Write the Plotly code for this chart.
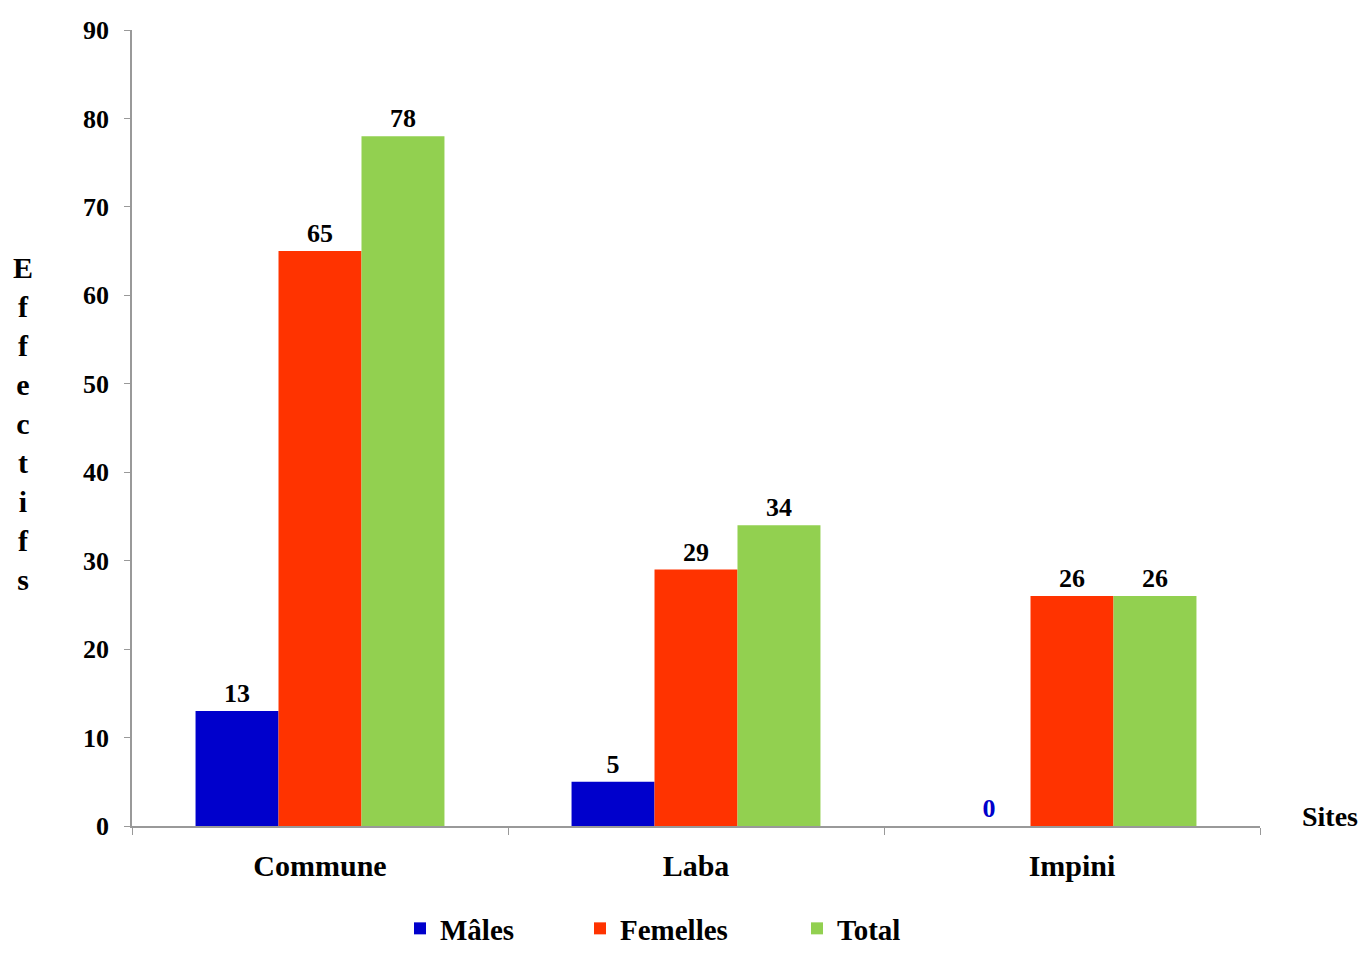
import plotly.graph_objects as go

sites = ["Commune", "Laba", "Impini"]
males = [13, 5, 0]
femelles = [65, 29, 26]
total = [78, 34, 26]
series_names = ["Mâles", "Femelles", "Total"]
colors = ["#0000CC", "#FF3300", "#92D050"]
y_ticks = [0, 10, 20, 30, 40, 50, 60, 70, 80, 90]

FONT = "Liberation Serif, Times New Roman, serif"
legend_ids = ["legend", "legend2", "legend3"]
legend_x = [400, 580, 797]

fig = go.Figure()
for name, vals, col, lid in zip(series_names, [males, femelles, total], colors, legend_ids):
    txtcol = ["#0000CC" if v == 0 else "black" for v in vals]
    fig.add_trace(go.Bar(
        x=sites, y=vals, name=name, marker=dict(color=col, line=dict(width=0)),
        text=[str(v) for v in vals], textposition="outside",
        textfont=dict(family=FONT, size=26, color=txtcol, weight="bold"),
        cliponaxis=False, legend=lid,
    ))

leg_common = dict(xref="container", yref="container", y=-0.006, yanchor="bottom",
                  xanchor="left", orientation="h", bgcolor="rgba(0,0,0,0)",
                  borderwidth=0, tracegroupgap=0,
                  font=dict(family=FONT, size=29, weight="bold", color="black"))
fig.update_layout(
    width=1368, height=954,
    margin=dict(l=132, r=108, t=30, b=128, autoexpand=False),
    plot_bgcolor="white", paper_bgcolor="white",
    barmode="group", bargap=0.338, bargroupgap=0,
    font=dict(family=FONT, color="black"),
    showlegend=True,
    legend=dict(x=legend_x[0] / 1368, **leg_common),
    legend2=dict(x=legend_x[1] / 1368, **leg_common),
    legend3=dict(x=legend_x[2] / 1368, **leg_common),
)
fig.update_xaxes(
    showline=True, linecolor="#999999", linewidth=1.5,
    tickson="boundaries", ticks="outside", ticklen=7, tickcolor="#999999",
    tickfont=dict(family=FONT, size=30, weight="bold", color="black"),
    showgrid=False, ticklabelstandoff=12,
)
fig.update_yaxes(
    range=[0, 90], tickvals=y_ticks, showline=True, linecolor="#999999", linewidth=1.5,
    ticks="outside", ticklen=6, tickcolor="#999999", showgrid=False, zeroline=False,
    tickfont=dict(family=FONT, size=26, weight="bold", color="black"),
    ticklabelstandoff=10,
)
fig.add_annotation(
    text="<br>".join(list("Effectifs")), xref="paper", yref="paper",
    x=-0.097, y=0.506, xanchor="center", yanchor="middle", showarrow=False,
    font=dict(family=FONT, size=30, weight="bold", color="black"),
)
fig.add_annotation(
    text="Sites", xref="paper", yref="paper",
    x=1.062, y=0.012, xanchor="center", yanchor="middle", showarrow=False,
    font=dict(family=FONT, size=28, weight="bold", color="black"),
)
fig.write_html("out.html")
